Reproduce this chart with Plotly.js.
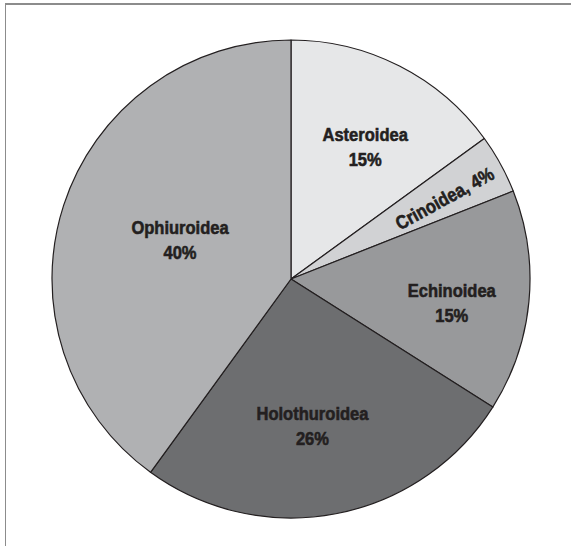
<!DOCTYPE html>
<html>
<head>
<meta charset="utf-8">
<script src="https://cdn.plot.ly/plotly-3.0.1.min.js"></script>
<style>
  html, body { margin: 0; padding: 0; background: #ffffff; }
  #wrap { position: relative; width: 571px; height: 546px; overflow: hidden; }
  #chart { position: absolute; left: 0; top: 0; width: 571px; height: 546px; }
  #frame {
    position: absolute; left: 5px; top: 3px; width: 600px; height: 600px;
    border-top: 2px solid #8c8c8c; border-left: 1px solid #8c8c8c;
    pointer-events: none;
  }
  /* condensed, heavy look for the slice labels */
  #chart .annotation-text {
    transform-box: fill-box;
    transform-origin: center;
    transform: scaleX(0.87);
    stroke: #231f20;
    stroke-width: 0.6px;
  }
</style>
</head>
<body>
<div id="wrap">
  <div id="chart"></div>
  <div id="frame"></div>
</div>
<script>
// Echinoderm classes, share of records (%)
const classes = ['Asteroidea', 'Crinoidea', 'Echinoidea', 'Holothuroidea', 'Ophiuroidea'];
const shares = [15, 4, 15, 26, 40];
const fills = ['#e6e7e8', '#d1d2d4', '#98999b', '#6d6e70', '#b0b1b3'];

// label anchors inside the pie domain (paper fractions)
const labelX = [0.655, 0.822, 0.837, 0.544, 0.268];
const labelY = [0.777, 0.668, 0.450, 0.1935, 0.582];

const labelFont = { family: '"Liberation Sans", Arial, sans-serif', size: 19, color: '#231f20', weight: 'bold' };

const total = shares.reduce((a, b) => a + b, 0);
let running = 0;
const annotations = classes.map((c, i) => {
  const mid = (running + shares[i] / 2) / total * 360; // degrees clockwise from 12 o'clock
  running += shares[i];
  const narrow = shares[i] < 5;
  return {
    xref: 'paper', yref: 'paper',
    x: labelX[i], y: labelY[i],
    xanchor: 'center', yanchor: 'middle',
    showarrow: false,
    text: narrow ? c + ', ' + shares[i] + '%' : c + '<br>' + shares[i] + '%',
    textangle: narrow ? mid - 90 : 0,
    font: labelFont,
    align: 'center'
  };
});

const traces = [{
  type: 'pie',
  labels: classes,
  values: shares,
  sort: false,
  direction: 'clockwise',
  rotation: 0,
  textinfo: 'none',
  hoverinfo: 'none',
  showlegend: false,
  domain: { x: [0, 1], y: [0, 1] },
  marker: { colors: fills, line: { color: '#231f20', width: 1.2 } }
}];

const layout = {
  width: 571,
  height: 546,
  margin: { l: 52, r: 41, t: 40, b: 28 },
  paper_bgcolor: '#ffffff',
  plot_bgcolor: '#ffffff',
  annotations: annotations
};

Plotly.newPlot('chart', traces, layout, { staticPlot: true, displayModeBar: false });
</script>
</body>
</html>
